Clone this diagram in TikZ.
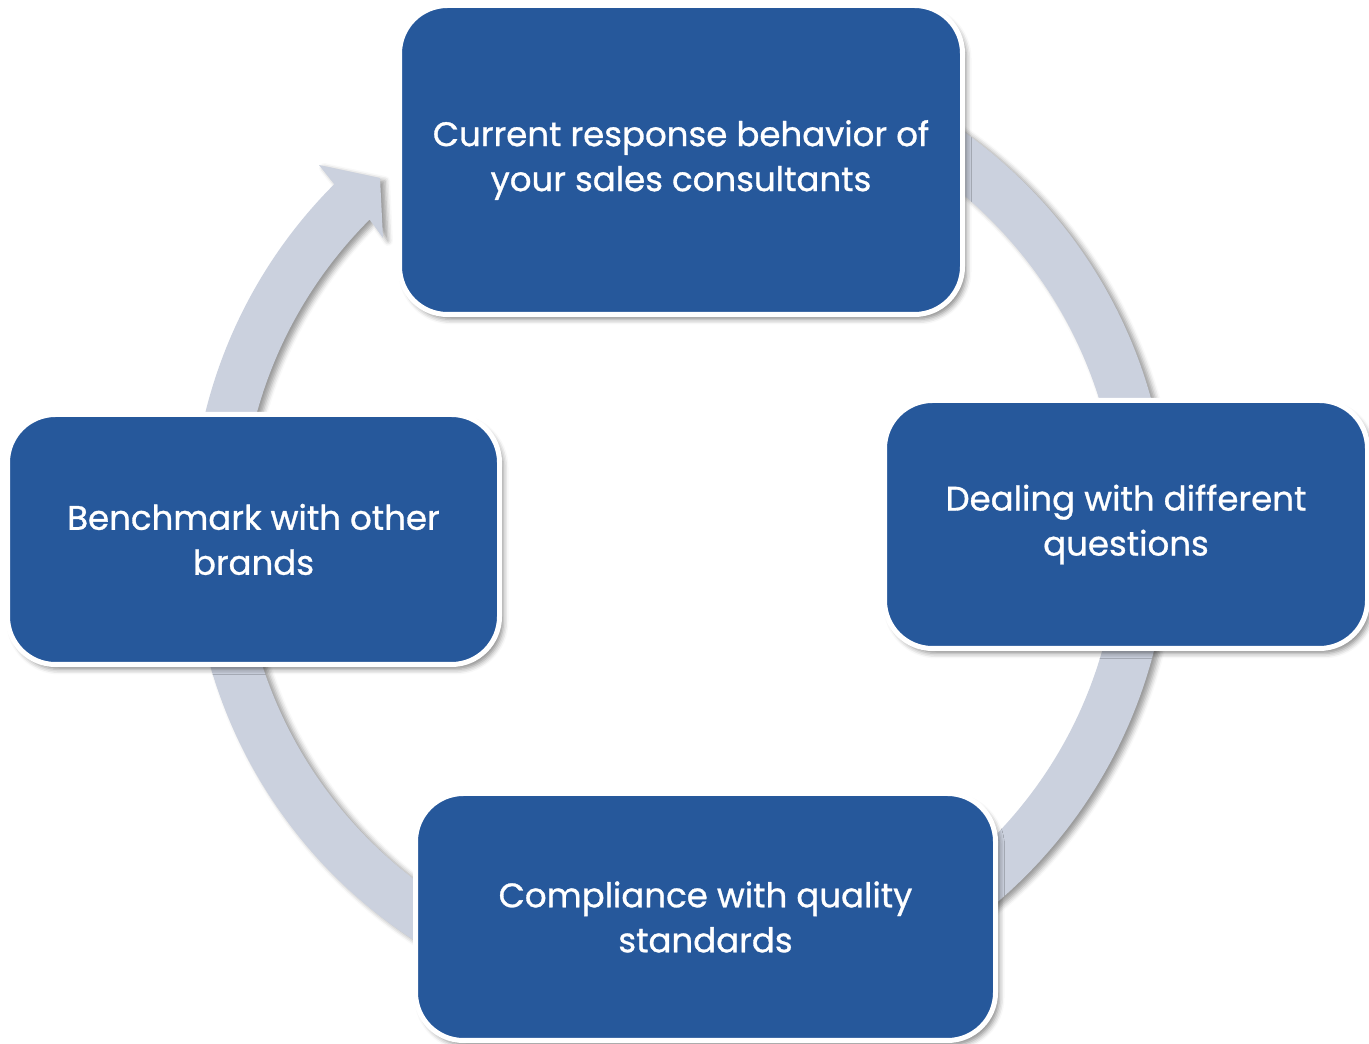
\documentclass[tikz,border=0pt]{standalone}
\usepackage{fontspec}
\setmainfont{Poppins}[FakeBold=0.9]
\usetikzlibrary{calc,shadows.blur}
\definecolor{boxblue}{RGB}{38,88,155}
\definecolor{ringgray}{RGB}{203,209,222}
\begin{document}
\begin{tikzpicture}[x=1pt,y=1pt,
  stage/.style={rounded corners=48pt, fill=boxblue, draw=white, line width=5pt,
    text=white, align=center, inner sep=0pt,
    font=\fontsize{34}{45}\selectfont,
    blur shadow={shadow xshift=4pt, shadow yshift=-5pt, shadow blur radius=5pt, shadow opacity=45}},
  ring/.style={fill=ringgray,
    blur shadow={shadow xshift=5pt, shadow yshift=-3pt, shadow blur radius=5pt, shadow opacity=40}}
]
\useasboundingbox (0,0) rectangle (1369,1044);
\coordinate (c) at (680,514);
% arrow tip corners
\coordinate (barbout) at (319,879);
\coordinate (tip) at (380,866);
\coordinate (barbin) at (383,806);

% circular arrow running clockwise behind the stages
\path[ring] ($(c)+(100:489)$) arc[start angle=100, end angle=-225, radius=489]
  -- (barbout) -- (tip) -- (barbin)
  -- ($(c)+(135:439)$) arc[start angle=-225, end angle=100, radius=439] -- cycle;

% stages
\node[stage, minimum width=563pt, minimum height=309pt] (cur) at (681,884)
  {Current response behavior of\\your sales consultants};
\node[stage, minimum width=483pt, minimum height=248pt] (deal) at (1126,519.5)
  {Dealing with different\\questions};
\node[stage, minimum width=580pt, minimum height=247pt] (comp) at (705.5,127)
  {Compliance with quality\\standards};
\node[stage, minimum width=492pt, minimum height=250pt] (bench) at (253.5,504.5)
  {Benchmark with other\\brands};
\end{tikzpicture}
\end{document}
